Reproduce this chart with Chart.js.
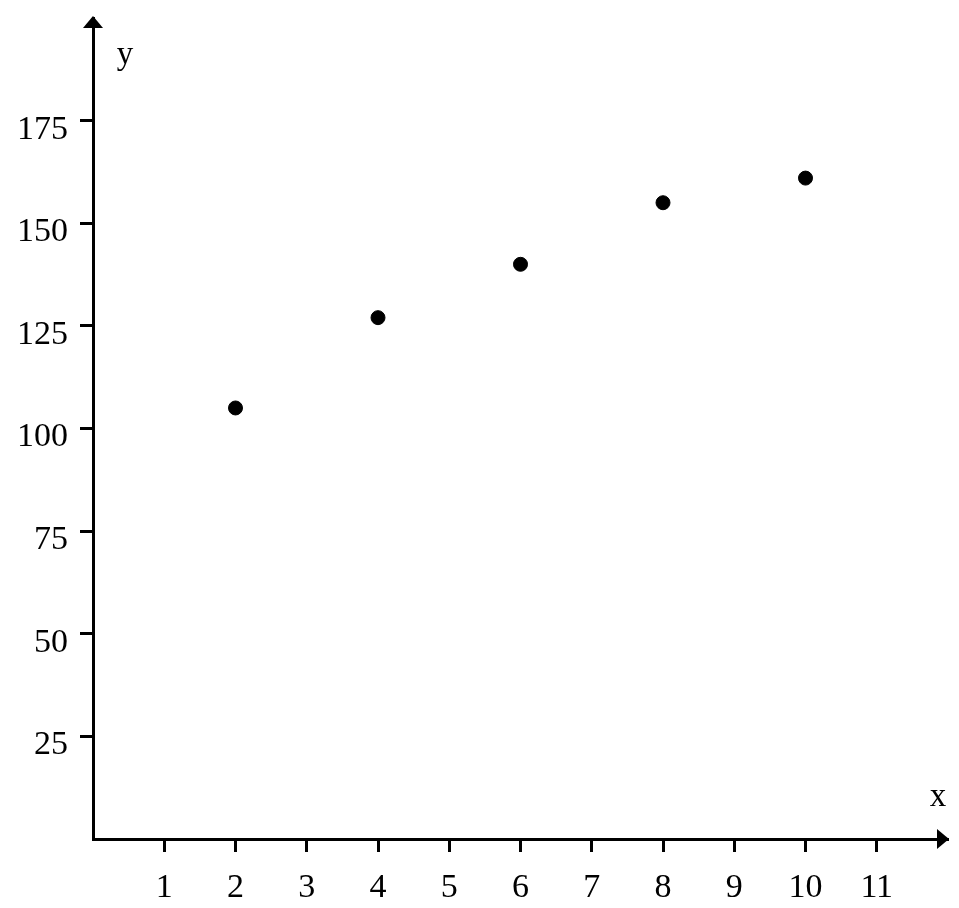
<!DOCTYPE html>
<html>
<head>
<meta charset="utf-8">
<script src="https://cdn.jsdelivr.net/npm/chart.js@4/dist/chart.umd.min.js"></script>
<style>
  html, body { margin: 0; padding: 0; background: #fff; }
  canvas { display: block; }
</style>
</head>
<body>
<canvas id="c" width="959" height="908"></canvas>
<script>
const xValues = [2, 4, 6, 8, 10];
const yValues = [105, 127, 140, 155, 161];
const xTicks = [1, 2, 3, 4, 5, 6, 7, 8, 9, 10, 11];
const yTicks = [25, 50, 75, 100, 125, 150, 175];
const xAxisMax = 12;
const yAxisMax = 200;
const xAxisName = 'x';
const yAxisName = 'y';

const FONT = '"Liberation Serif", "Times New Roman", serif';

const points = xValues.map((x, i) => ({ x: x, y: yValues[i] }));

const arrowPlugin = {
  id: 'arrows',
  afterDraw(chart) {
    const ctx = chart.ctx;
    const xs = chart.scales.x, ys = chart.scales.y;
    const ox = xs.getPixelForValue(0);
    const oy = ys.getPixelForValue(0);
    const topY = ys.getPixelForValue(yAxisMax);
    const rightX = xs.getPixelForValue(xAxisMax);
    ctx.save();
    ctx.fillStyle = '#000';
    // y arrow
    ctx.beginPath();
    ctx.moveTo(ox, topY - 2);
    ctx.lineTo(ox - 10, topY + 10);
    ctx.lineTo(ox + 10, topY + 10);
    ctx.closePath();
    ctx.fill();
    // x arrow
    ctx.beginPath();
    ctx.moveTo(rightX + 1, oy);
    ctx.lineTo(rightX - 11, oy - 10);
    ctx.lineTo(rightX - 11, oy + 10);
    ctx.closePath();
    ctx.fill();
    // axis names
    ctx.font = '33px ' + FONT;
    ctx.textAlign = 'center';
    ctx.textBaseline = 'middle';
    ctx.fillText(yAxisName, ox + 32, topY + 37);
    ctx.fillText(xAxisName, rightX - 10, oy - 42);
    ctx.restore();
  }
};

new Chart(document.getElementById('c'), {
  type: 'scatter',
  data: {
    datasets: [{
      data: points,
      backgroundColor: '#000',
      borderColor: '#000',
      pointRadius: 7,
      pointHoverRadius: 7
    }]
  },
  options: {
    responsive: false,
    devicePixelRatio: 1,
    animation: false,
    events: [],
    layout: { padding: { top: 18, right: 11, left: 0, bottom: 0 } },
    plugins: { legend: { display: false }, tooltip: { enabled: false } },
    scales: {
      x: {
        type: 'linear',
        min: 0,
        max: xAxisMax,
        afterBuildTicks(scale) { scale.ticks = xTicks.map(v => ({ value: v })); },
        afterFit(scale) { scale.height = 69; scale.paddingLeft = 0; scale.paddingRight = 0; },
        border: { display: true, color: '#000', width: 3 },
        grid: { display: true, drawOnChartArea: false, drawTicks: true, tickLength: 13, tickWidth: 3, tickColor: '#000' },
        ticks: { color: '#000', font: { family: FONT, size: 34 }, padding: 16, maxRotation: 0, autoSkip: false }
      },
      y: {
        type: 'linear',
        min: 0,
        max: yAxisMax,
        afterBuildTicks(scale) { scale.ticks = yTicks.map(v => ({ value: v })); },
        afterFit(scale) { scale.width = 93; scale.paddingTop = 0; scale.paddingBottom = 0; },
        border: { display: true, color: '#000', width: 3 },
        grid: { display: true, drawOnChartArea: false, drawTicks: true, tickLength: 13, tickWidth: 3, tickColor: '#000' },
        ticks: { color: '#000', font: { family: FONT, size: 34 }, padding: 12, labelOffset: 9, autoSkip: false }
      }
    }
  },
  plugins: [arrowPlugin]
});
</script>
</body>
</html>
